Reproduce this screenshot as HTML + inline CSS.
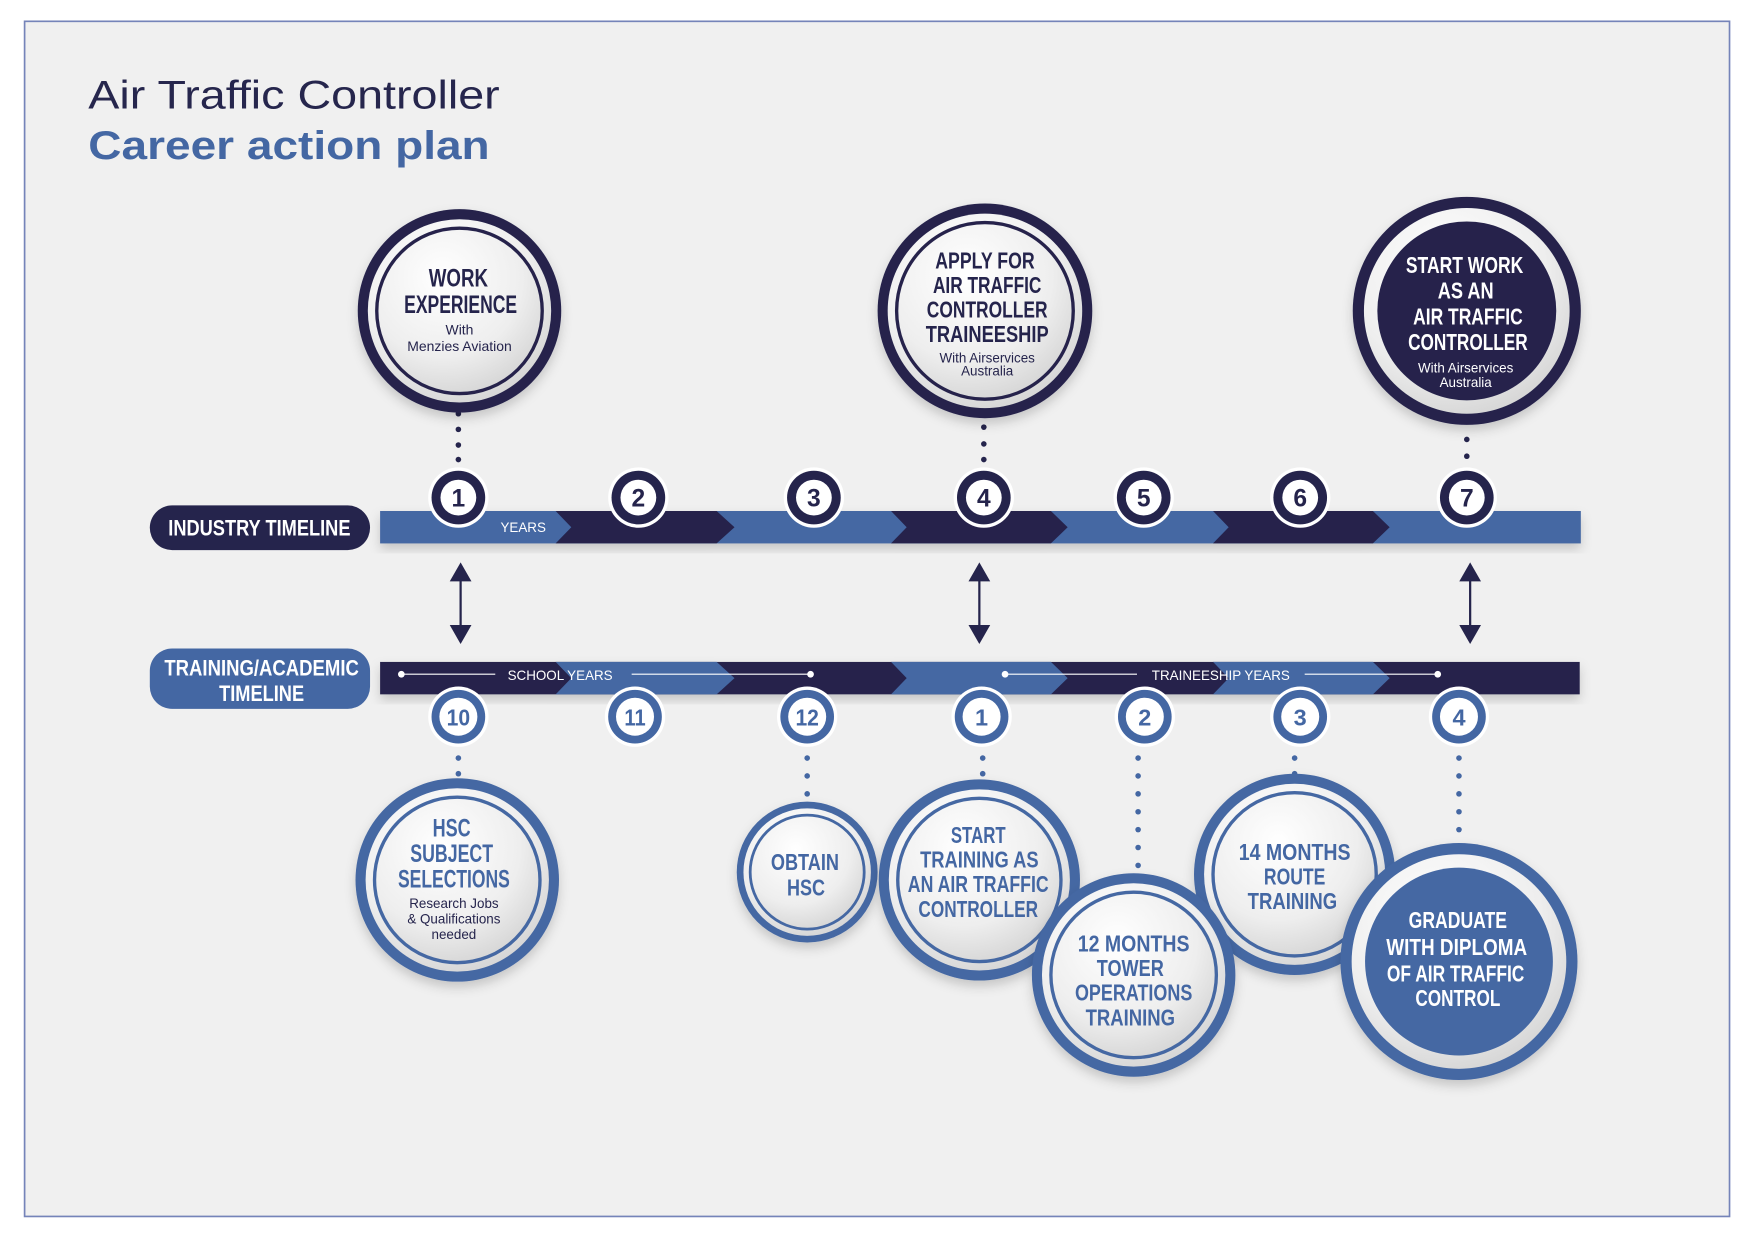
<!DOCTYPE html>
<html><head><meta charset="utf-8"><style>
html,body{margin:0;padding:0;background:#fff;}
svg{display:block;}
.c{font-family:"Liberation Sans Narrow","Liberation Sans",sans-serif;font-weight:bold;text-anchor:middle;}
.s{font-family:"Liberation Sans",sans-serif;text-anchor:middle;}
</style></head><body>
<svg width="1753" height="1240" viewBox="0 0 1568 1109" xmlns="http://www.w3.org/2000/svg">
<defs>
<radialGradient id="g" cx="0.4" cy="0.3" r="0.8">
<stop offset="0" stop-color="#ffffff"/><stop offset="0.6" stop-color="#eeeeee"/><stop offset="1" stop-color="#cfcfcf"/>
</radialGradient>
<filter id="sh" x="-20%" y="-20%" width="140%" height="150%"><feDropShadow dx="0" dy="5" stdDeviation="5" flood-color="#000" flood-opacity="0.18"/></filter>
</defs>
<rect x="22" y="19" width="1525" height="1069" fill="#f0f0f0" stroke="#7584b9" stroke-width="1.5"/>
<text x="79" y="97" font-family="Liberation Sans,sans-serif" font-size="36" fill="#26264d" textLength="368" lengthAdjust="spacingAndGlyphs">Air Traffic Controller</text>
<text x="79" y="142" font-family="Liberation Sans,sans-serif" font-weight="bold" font-size="36" fill="#4467a3" textLength="359" lengthAdjust="spacingAndGlyphs">Career action plan</text>

<!-- industry -->
<rect x="134" y="452" width="197" height="40" rx="20" fill="#25244c"/>
<text class="c" x="232" y="479" font-size="20" fill="#fff" textLength="163" lengthAdjust="spacingAndGlyphs">INDUSTRY TIMELINE</text>
<g filter="url(#sh)">
<rect x="340" y="457" width="1074" height="29" fill="#4467a3"/>
<polygon points="497,457 641,457 657,471.5 641,486 497,486 511,471.5" fill="#25244c"/>
<polygon points="797,457 940,457 955,471.5 940,486 797,486 811,471.5" fill="#25244c"/>
<polygon points="1085,457 1228,457 1243,471.5 1228,486 1085,486 1099,471.5" fill="#25244c"/>
</g>
<text class="s" x="468" y="476" font-size="12" fill="#fff">YEARS</text>

<!-- training -->
<rect x="134" y="580" width="197" height="54" rx="20" fill="#4467a3"/>
<text class="c" x="234" y="604" font-size="20" fill="#fff" textLength="174" lengthAdjust="spacingAndGlyphs">TRAINING/ACADEMIC</text>
<text class="c" x="234" y="627" font-size="20" fill="#fff" textLength="76" lengthAdjust="spacingAndGlyphs">TIMELINE</text>
<g filter="url(#sh)">
<rect x="340" y="592" width="1073" height="29" fill="#25244c"/>
<polygon points="497,592 641,592 657,606.5 641,621 497,621 511,606.5" fill="#4467a3"/>
<polygon points="797,592 940,592 955,606.5 940,621 797,621 811,606.5" fill="#4467a3"/>
<polygon points="1085,592 1228,592 1243,606.5 1228,621 1085,621 1099,606.5" fill="#4467a3"/>
</g>
<g stroke="#fff" stroke-width="1"><line x1="359" y1="603" x2="443" y2="603"/><line x1="565" y1="603" x2="725" y2="603"/><line x1="899" y1="603" x2="1017" y2="603"/><line x1="1167" y1="603" x2="1286" y2="603"/></g>
<g fill="#fff"><circle cx="359" cy="603" r="3"/><circle cx="725" cy="603" r="3"/><circle cx="899" cy="603" r="3"/><circle cx="1286" cy="603" r="3"/></g>
<text class="s" x="501" y="608" font-size="12" fill="#fff">SCHOOL YEARS</text>
<text class="s" x="1092" y="608" font-size="12" fill="#fff">TRAINEESHIP YEARS</text>

<!-- arrows -->
<g fill="#25244c" stroke="#25244c" stroke-width="2">
<line x1="412" y1="515" x2="412" y2="565"/><polygon points="412,505 404,519 420,519"/><polygon points="412,574 404,560 420,560"/>
<line x1="876" y1="515" x2="876" y2="565"/><polygon points="876,505 868,519 884,519"/><polygon points="876,574 868,560 884,560"/>
<line x1="1315" y1="515" x2="1315" y2="565"/><polygon points="1315,505 1307,519 1323,519"/><polygon points="1315,574 1307,560 1323,560"/>
</g>

<!-- dotted connectors -->
<g fill="#25244c">
<circle cx="410" cy="370" r="2.5"/><circle cx="410" cy="384" r="2.5"/><circle cx="410" cy="398" r="2.5"/><circle cx="410" cy="411" r="2.5"/>
<circle cx="880" cy="382" r="2.5"/><circle cx="880" cy="397" r="2.5"/><circle cx="880" cy="411" r="2.5"/>
<circle cx="1312" cy="393" r="2.5"/><circle cx="1312" cy="408" r="2.5"/>
</g>
<g fill="#4467a3">
<circle cx="410" cy="678" r="2.5"/><circle cx="410" cy="692" r="2.5"/>
<circle cx="722" cy="678" r="2.5"/><circle cx="722" cy="694" r="2.5"/><circle cx="722" cy="710" r="2.5"/>
<circle cx="879" cy="678" r="2.5"/><circle cx="879" cy="692" r="2.5"/>
<circle cx="1018" cy="678" r="2.5"/><circle cx="1018" cy="694" r="2.5"/><circle cx="1018" cy="710" r="2.5"/><circle cx="1018" cy="726" r="2.5"/><circle cx="1018" cy="742" r="2.5"/><circle cx="1018" cy="758" r="2.5"/><circle cx="1018" cy="774" r="2.5"/>
<circle cx="1158" cy="678" r="2.5"/><circle cx="1158" cy="692" r="2.5"/>
<circle cx="1305" cy="678" r="2.5"/><circle cx="1305" cy="694" r="2.5"/><circle cx="1305" cy="710" r="2.5"/><circle cx="1305" cy="726" r="2.5"/><circle cx="1305" cy="742" r="2.5"/>
</g>

<!-- top number circles -->
<g class="c" font-size="22">
<g><circle cx="410" cy="445" r="27" fill="#fff"/><circle cx="410" cy="445" r="24" fill="#25244c"/><circle cx="410" cy="445" r="16" fill="#fff"/><text x="410" y="453" fill="#25244c">1</text></g>
<g><circle cx="571" cy="445" r="27" fill="#fff"/><circle cx="571" cy="445" r="24" fill="#25244c"/><circle cx="571" cy="445" r="16" fill="#fff"/><text x="571" y="453" fill="#25244c">2</text></g>
<g><circle cx="728" cy="445" r="27" fill="#fff"/><circle cx="728" cy="445" r="24" fill="#25244c"/><circle cx="728" cy="445" r="16" fill="#fff"/><text x="728" y="453" fill="#25244c">3</text></g>
<g><circle cx="880" cy="445" r="27" fill="#fff"/><circle cx="880" cy="445" r="24" fill="#25244c"/><circle cx="880" cy="445" r="16" fill="#fff"/><text x="880" y="453" fill="#25244c">4</text></g>
<g><circle cx="1023" cy="445" r="27" fill="#fff"/><circle cx="1023" cy="445" r="24" fill="#25244c"/><circle cx="1023" cy="445" r="16" fill="#fff"/><text x="1023" y="453" fill="#25244c">5</text></g>
<g><circle cx="1163" cy="445" r="27" fill="#fff"/><circle cx="1163" cy="445" r="24" fill="#25244c"/><circle cx="1163" cy="445" r="16" fill="#fff"/><text x="1163" y="453" fill="#25244c">6</text></g>
<g><circle cx="1312" cy="445" r="27" fill="#fff"/><circle cx="1312" cy="445" r="24" fill="#25244c"/><circle cx="1312" cy="445" r="16" fill="#fff"/><text x="1312" y="453" fill="#25244c">7</text></g>
</g>
<!-- bottom number circles -->
<g class="c" font-size="21">
<g><circle cx="410" cy="641" r="27" fill="#fff"/><circle cx="410" cy="641" r="24" fill="#4467a3"/><circle cx="410" cy="641" r="17" fill="#fff"/><text x="410" y="649" fill="#4467a3" textLength="21" lengthAdjust="spacingAndGlyphs">10</text></g>
<g><circle cx="568" cy="641" r="27" fill="#fff"/><circle cx="568" cy="641" r="24" fill="#4467a3"/><circle cx="568" cy="641" r="17" fill="#fff"/><text x="568" y="649" fill="#4467a3" textLength="19" lengthAdjust="spacingAndGlyphs">11</text></g>
<g><circle cx="722" cy="641" r="27" fill="#fff"/><circle cx="722" cy="641" r="24" fill="#4467a3"/><circle cx="722" cy="641" r="17" fill="#fff"/><text x="722" y="649" fill="#4467a3" textLength="21" lengthAdjust="spacingAndGlyphs">12</text></g>
<g><circle cx="878" cy="641" r="27" fill="#fff"/><circle cx="878" cy="641" r="24" fill="#4467a3"/><circle cx="878" cy="641" r="17" fill="#fff"/><text x="878" y="649" fill="#4467a3">1</text></g>
<g><circle cx="1024" cy="641" r="27" fill="#fff"/><circle cx="1024" cy="641" r="24" fill="#4467a3"/><circle cx="1024" cy="641" r="17" fill="#fff"/><text x="1024" y="649" fill="#4467a3">2</text></g>
<g><circle cx="1163" cy="641" r="27" fill="#fff"/><circle cx="1163" cy="641" r="24" fill="#4467a3"/><circle cx="1163" cy="641" r="17" fill="#fff"/><text x="1163" y="649" fill="#4467a3">3</text></g>
<g><circle cx="1305" cy="641" r="27" fill="#fff"/><circle cx="1305" cy="641" r="24" fill="#4467a3"/><circle cx="1305" cy="641" r="17" fill="#fff"/><text x="1305" y="649" fill="#4467a3">4</text></g>
</g>

<!-- top big circles -->
<g filter="url(#sh)"><circle cx="411" cy="278" r="91" fill="#25244c"/><circle cx="411" cy="278" r="82" fill="url(#g)"/><circle cx="411" cy="278" r="74" fill="url(#g)" stroke="#25244c" stroke-width="3"/></g>
<text class="c" x="410" y="256" font-size="22" fill="#25244c" textLength="53" lengthAdjust="spacingAndGlyphs">WORK</text>
<text class="c" x="412" y="280" font-size="22" fill="#25244c" textLength="101" lengthAdjust="spacingAndGlyphs">EXPERIENCE</text>
<text class="s" x="411" y="299" font-size="12.5" fill="#25244c">With</text>
<text class="s" x="411" y="314" font-size="12.5" fill="#25244c">Menzies Aviation</text>

<g filter="url(#sh)"><circle cx="881" cy="278" r="96" fill="#25244c"/><circle cx="881" cy="278" r="87" fill="url(#g)"/><circle cx="881" cy="278" r="79" fill="url(#g)" stroke="#25244c" stroke-width="3"/></g>
<text class="c" x="881" y="240" font-size="21" fill="#25244c" textLength="89" lengthAdjust="spacingAndGlyphs">APPLY FOR</text>
<text class="c" x="883" y="262" font-size="21" fill="#25244c" textLength="97" lengthAdjust="spacingAndGlyphs">AIR TRAFFIC</text>
<text class="c" x="883" y="284" font-size="21" fill="#25244c" textLength="108" lengthAdjust="spacingAndGlyphs">CONTROLLER</text>
<text class="c" x="883" y="306" font-size="21" fill="#25244c" textLength="110" lengthAdjust="spacingAndGlyphs">TRAINEESHIP</text>
<text class="s" x="883" y="324" font-size="12" fill="#25244c">With Airservices</text>
<text class="s" x="883" y="336" font-size="12" fill="#25244c">Australia</text>

<g filter="url(#sh)"><circle cx="1312" cy="278" r="102" fill="#25244c"/><circle cx="1312" cy="278" r="92" fill="url(#g)"/><circle cx="1312" cy="278" r="80" fill="#25244c"/></g>
<text class="c" x="1310" y="244" font-size="21" fill="#fff" textLength="105" lengthAdjust="spacingAndGlyphs">START WORK</text>
<text class="c" x="1311" y="267" font-size="21" fill="#fff" textLength="50" lengthAdjust="spacingAndGlyphs">AS AN</text>
<text class="c" x="1313" y="290" font-size="21" fill="#fff" textLength="98" lengthAdjust="spacingAndGlyphs">AIR TRAFFIC</text>
<text class="c" x="1313" y="313" font-size="21" fill="#fff" textLength="107" lengthAdjust="spacingAndGlyphs">CONTROLLER</text>
<text class="s" x="1311" y="333" font-size="12" fill="#fff">With Airservices</text>
<text class="s" x="1311" y="346" font-size="12" fill="#fff">Australia</text>

<!-- bottom big circles -->
<g filter="url(#sh)"><circle cx="409" cy="787" r="91" fill="#4467a3"/><circle cx="409" cy="787" r="82" fill="url(#g)"/><circle cx="409" cy="787" r="74" fill="url(#g)" stroke="#4467a3" stroke-width="3"/></g>
<text class="c" x="404" y="748" font-size="22" fill="#4467a3" textLength="34" lengthAdjust="spacingAndGlyphs">HSC</text>
<text class="c" x="404" y="771" font-size="22" fill="#4467a3" textLength="74" lengthAdjust="spacingAndGlyphs">SUBJECT</text>
<text class="c" x="406" y="794" font-size="22" fill="#4467a3" textLength="100" lengthAdjust="spacingAndGlyphs">SELECTIONS</text>
<text class="s" x="406" y="812" font-size="12" fill="#25244c">Research Jobs</text>
<text class="s" x="406" y="826" font-size="12" fill="#25244c">&amp; Qualifications</text>
<text class="s" x="406" y="840" font-size="12" fill="#25244c">needed</text>

<g filter="url(#sh)"><circle cx="722" cy="780" r="63" fill="#4467a3"/><circle cx="722" cy="780" r="57" fill="url(#g)"/><circle cx="722" cy="780" r="51" fill="url(#g)" stroke="#4467a3" stroke-width="2.5"/></g>
<text class="c" x="720" y="778" font-size="21" fill="#4467a3" textLength="61" lengthAdjust="spacingAndGlyphs">OBTAIN</text>
<text class="c" x="721" y="801" font-size="21" fill="#4467a3" textLength="34" lengthAdjust="spacingAndGlyphs">HSC</text>

<g filter="url(#sh)"><circle cx="876" cy="787" r="90" fill="#4467a3"/><circle cx="876" cy="787" r="81" fill="url(#g)"/><circle cx="876" cy="787" r="73" fill="url(#g)" stroke="#4467a3" stroke-width="3"/></g>
<text class="c" x="875" y="754" font-size="21" fill="#4467a3" textLength="49" lengthAdjust="spacingAndGlyphs">START</text>
<text class="c" x="876" y="776" font-size="21" fill="#4467a3" textLength="106" lengthAdjust="spacingAndGlyphs">TRAINING AS</text>
<text class="c" x="875" y="798" font-size="21" fill="#4467a3" textLength="126" lengthAdjust="spacingAndGlyphs">AN AIR TRAFFIC</text>
<text class="c" x="875" y="820" font-size="21" fill="#4467a3" textLength="107" lengthAdjust="spacingAndGlyphs">CONTROLLER</text>

<g filter="url(#sh)"><circle cx="1158" cy="782" r="90" fill="#4467a3"/><circle cx="1158" cy="782" r="81" fill="url(#g)"/><circle cx="1158" cy="782" r="73" fill="url(#g)" stroke="#4467a3" stroke-width="3"/></g>
<text class="c" x="1158" y="769" font-size="21" fill="#4467a3" textLength="100" lengthAdjust="spacingAndGlyphs">14 MONTHS</text>
<text class="c" x="1158" y="791" font-size="21" fill="#4467a3" textLength="55" lengthAdjust="spacingAndGlyphs">ROUTE</text>
<text class="c" x="1156" y="813" font-size="21" fill="#4467a3" textLength="80" lengthAdjust="spacingAndGlyphs">TRAINING</text>

<g filter="url(#sh)"><circle cx="1014" cy="872" r="91" fill="#4467a3"/><circle cx="1014" cy="872" r="82" fill="url(#g)"/><circle cx="1014" cy="872" r="74" fill="url(#g)" stroke="#4467a3" stroke-width="3"/></g>
<text class="c" x="1014" y="851" font-size="21" fill="#4467a3" textLength="100" lengthAdjust="spacingAndGlyphs">12 MONTHS</text>
<text class="c" x="1011" y="873" font-size="21" fill="#4467a3" textLength="60" lengthAdjust="spacingAndGlyphs">TOWER</text>
<text class="c" x="1014" y="895" font-size="21" fill="#4467a3" textLength="105" lengthAdjust="spacingAndGlyphs">OPERATIONS</text>
<text class="c" x="1011" y="917" font-size="21" fill="#4467a3" textLength="80" lengthAdjust="spacingAndGlyphs">TRAINING</text>

<g filter="url(#sh)"><circle cx="1305" cy="860" r="106" fill="#4467a3"/><circle cx="1305" cy="860" r="96" fill="url(#g)"/><circle cx="1305" cy="860" r="84" fill="#4467a3"/></g>
<text class="c" x="1304" y="830" font-size="21" fill="#fff" textLength="88" lengthAdjust="spacingAndGlyphs">GRADUATE</text>
<text class="c" x="1303" y="854" font-size="21" fill="#fff" textLength="126" lengthAdjust="spacingAndGlyphs">WITH DIPLOMA</text>
<text class="c" x="1302" y="878" font-size="21" fill="#fff" textLength="123" lengthAdjust="spacingAndGlyphs">OF AIR TRAFFIC</text>
<text class="c" x="1304" y="900" font-size="21" fill="#fff" textLength="76" lengthAdjust="spacingAndGlyphs">CONTROL</text>
</svg>
</body></html>
